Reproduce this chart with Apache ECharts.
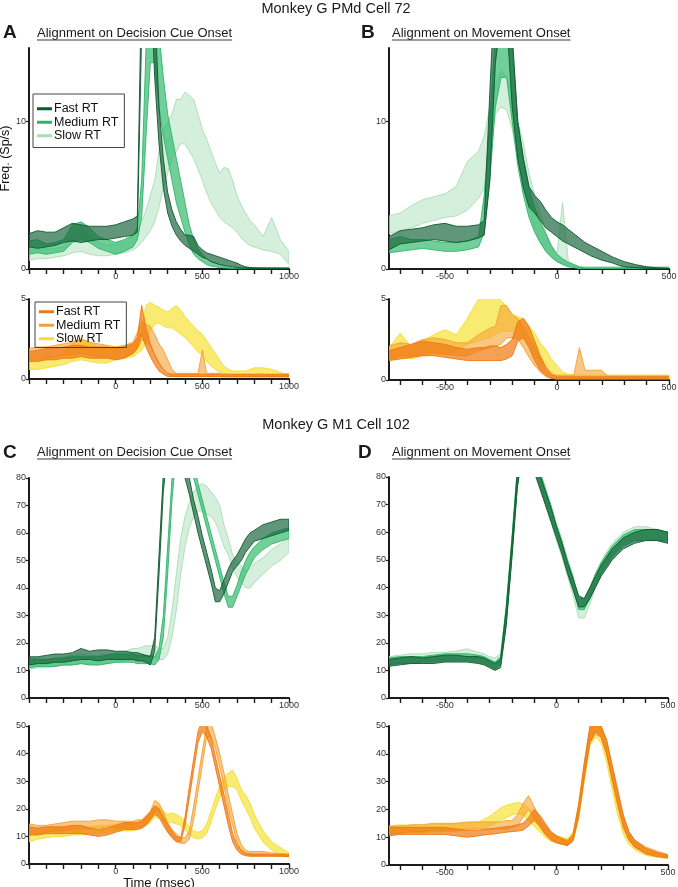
<!DOCTYPE html>
<html>
<head>
<meta charset="utf-8">
<script src="https://cdn.jsdelivr.net/npm/echarts@6/dist/echarts.min.js"></script>
<style>
  html, body { margin: 0; padding: 0; background: #fff; }
  #main { width: 678px; height: 887px; }
</style>
</head>
<body>
<div id="main"></div>
<script>
// time bins (msec), decision-cue alignment and movement alignment
const cueTimes = [-500,-450,-400,-350,-300,-250,-200,-150,-100,-50,0,50,100,125,150,175,200,225,250,275,300,325,350,375,400,425,450,475,500,525,550,575,600,625,650,675,700,725,750,775,800,850,900,950,1000];
const moveTimes = [-750,-700,-650,-600,-550,-500,-450,-400,-350,-325,-300,-275,-250,-225,-200,-175,-150,-125,-100,-75,-50,-25,0,25,50,75,100,125,150,175,200,225,250,275,300,325,350,400,450,500];

// axis ticks / labels
const cueTicks = [-500,-400,-300,-200,-100,0,100,200,300,400,500,600,700,800,900,1000];
const cueLabels = [0,500,1000];
const moveTicks = [-700,-600,-500,-400,-300,-200,-100,0,100,200,300,400,500];
const moveLabels = [-500,0,500];
const pmdTicks = [0,10];
const pmdSmallTicks = [0,5];
const m1Ticks = [0,10,20,30,40,50,60,70,80];
const m1SmallTicks = [0,10,20,30,40,50];

// ---- A : PMd, cue aligned (band = lower / upper edge) ----
const aTopFastLo = [1.5,1.4,1.5,1.6,1.8,1.9,1.8,1.9,2.0,2.0,2.1,2.2,2.3, 2.5,16,20,20,13,8.5,5.5,3.8,2.9,2.3,1.9,1.6,1.4,1.2,1.0,0.8,0.7,0.5,0.4,0.3,0.25,0.2,0.15,0.1,0.08,0.05,0.03,0.02, 0.02,0.02,0.02,0.02];
const aTopFastHi = [2.4,2.6,2.5,2.5,2.8,3.1,3.0,2.9,2.9,2.9,3.0,3.2,3.4, 3.6,20,25,25,18,11,7.5,5.2,4.0,3.2,2.7,2.3,2.3,2.2,1.6,1.3,1.1,1.0,0.9,0.8,0.7,0.6,0.5,0.4,0.25,0.15,0.1,0.08, 0.07,0.07,0.06,0.06];
const aTopMedLo = [1.0,1.1,1.0,1.1,1.2,1.8,2.0,1.8,1.4,1.2,1.0,1.2,1.5, 2.0,3.5,9,14,14,11,9,7.5,6,4.5,3.5,2.5,1.6,1.0,0.7,0.5,0.3,0.2,0.15,0.1,0.08,0.05,0.02,0.02,0.02,0.02,0.02,0.02, 0.02,0.02,0.02,0.02];
const aTopMedHi = [1.9,2.0,1.7,1.8,2.0,3.0,3.2,2.8,2.2,2.0,1.8,2.0,2.3, 2.8,6.0,15,20,20,16,13,10.5,9,7.5,6,4.5,3.0,2.0,1.4,1.0,0.7,0.5,0.4,0.3,0.2,0.15,0.08,0.08,0.08,0.08,0.08,0.08, 0.08,0.08,0.08,0.08];
const aTopSlowLo = [0.6,0.7,0.7,0.8,0.9,1.1,1.2,1.0,0.9,0.9,1.0,1.1,1.3, 1.5,1.8,2.2,2.6,3.2,4.2,5.5,6.5,7.5,8.0,8.5,8.5,8.0,7.5,6.8,6.0,5.2,4.5,4.0,3.5,3.2,3.0,2.8,2.5,2.1,1.8,1.6,1.5, 1.3,1.2,1.0,0.3];
const aTopSlowHi = [1.3,1.3,1.4,1.4,1.5,2.4,2.8,2.2,1.8,1.6,1.7,1.8,2.2, 2.6,3.2,4.0,5.0,6.0,8.0,9.5,10.0,10.5,11.5,11.5,12.0,11.8,11.5,10.5,9.5,8.8,8.0,7.2,6.5,6.9,6.8,6.0,5.0,4.3,3.8,3.3,3.0, 2.2,3.5,2.0,1.2];

const aBotFastLo = [1.1,1.1,1.2,1.2,1.3,1.3,1.4,1.3,1.3,1.3,1.2,1.3,1.6, 1.9,2.8,2.0,1.4,0.9,0.5,0.3,0.15,0.15,0.15,0.15,0.15,0.15,0.15,0.15,0.15,0.15,0.15,0.15,0.15,0.15,0.15,0.15,0.15,0.15,0.15,0.15,0.15, 0.15,0.15,0.15,0.15];
const aBotFastHi = [1.7,1.8,1.9,1.9,2.0,2.1,2.1,2.0,2.0,2.0,1.9,2.0,2.2, 2.6,4.6,3.2,2.2,1.5,1.0,0.6,0.35,0.3,0.3,0.3,0.3,0.3,0.3,0.3,0.3,0.3,0.3,0.3,0.3,0.3,0.3,0.3,0.3,0.3,0.3,0.3,0.3, 0.3,0.3,0.3,0.3];
const aBotMedLo = [1.2,1.3,1.3,1.4,1.5,1.5,1.6,1.5,1.4,1.4,1.3,1.4,1.6, 1.9,2.4,2.4,2.0,1.6,1.0,0.6,0.4,0.2,0.15,0.15,0.15,0.15,0.15,0.15,0.15,0.15,0.15,0.15,0.15,0.12,0.12,0.12,0.12,0.12,0.12,0.12,0.12, 0.12,0.12,0.12,0.12];
const aBotMedHi = [1.9,2.0,2.0,2.1,2.2,2.3,2.5,2.3,2.2,2.1,2.0,2.1,2.3, 2.9,3.6,3.4,3.3,2.8,2.2,1.8,1.2,0.6,0.35,0.35,0.35,0.35,0.35,0.35,1.8,0.35,0.35,0.35,0.35,0.25,0.25,0.25,0.25,0.25,0.25,0.25,0.25, 0.25,0.25,0.25,0.25];
const aBotSlowLo = [0.6,0.6,0.7,0.8,0.9,1.1,1.2,1.1,1.0,1.0,1.2,1.3,1.4, 1.6,1.8,2.2,3.0,3.4,3.5,3.3,3.2,3.2,3.0,2.8,2.6,2.3,2.0,1.7,1.5,1.1,0.8,0.6,0.4,0.35,0.3,0.3,0.3,0.3,0.3,0.3,0.3, 0.3,0.25,0.2,0.2];
const aBotSlowHi = [1.2,1.2,1.3,1.4,1.6,2.2,2.5,2.3,2.0,1.9,2.0,2.1,2.2, 2.4,3.0,4.6,4.8,4.6,4.5,4.3,4.2,4.4,4.6,4.3,3.9,3.6,3.3,3.0,2.8,2.4,2.0,1.6,1.2,0.8,0.6,0.5,0.5,0.5,0.5,0.6,0.7, 0.7,0.6,0.4,0.3];

// ---- B : PMd, movement aligned ----
const bTopFastLo = [1.3,1.7,1.8,1.9,2.0,1.9,1.8,1.9,2.1, 2.3,6,14,17,17,11,7.5,5.5,4.2,3.8,3.3,2.8,2.5,2.2,1.9,1.7,1.5,1.3,1.1,0.9,0.75,0.6,0.5,0.4,0.25,0.15,0.12,0.1, 0.05,0.02,0.02];
const bTopFastHi = [2.2,2.6,2.7,2.8,3.0,3.1,2.9,2.9,3.0, 3.3,12,20,22,22,16,10,7.5,5.6,5.0,4.6,4.0,3.5,3.2,3.0,2.7,2.4,2.1,1.8,1.6,1.4,1.2,1.0,0.8,0.65,0.5,0.4,0.3, 0.15,0.08,0.05];
const bTopMedLo = [1.1,1.2,1.3,1.4,1.3,1.2,1.2,1.3,1.5, 2.5,6,11,13,13,10,7,5,3.5,2.5,1.8,1.2,0.8,0.5,0.3,0.15,0.1,0.05,0.02,0.02,0.02,0.02,0.02,0.02,0.02,0.02,0.02,0.02, 0.02,0.02,0.02];
const bTopMedHi = [2.0,2.2,2.0,2.0,1.9,1.8,1.8,1.9,2.2, 5.0,10,16,20,20,15,10,7.5,5.5,4.2,3.2,2.4,1.6,1.0,0.7,0.45,0.3,0.15,0.08,0.08,0.08,0.08,0.08,0.08,0.08,0.08,0.08,0.08, 0.08,0.08,0.08];
const bTopSlowLo = [2.4,2.6,2.8,3.1,3.3,3.5,3.6,4.0,4.8, 5.5,8.0,10.5,11,10.8,9.5,7.5,5.5,4.0,2.8,1.8,1.2,0.8,0.5,0.4,0.2,0.1,0.05,0.05,0.05,0.05,0.05,0.05,0.05,0.05,0.05,0.05,0.05, 0.05,0.05,0.05];
const bTopSlowHi = [3.6,3.8,4.3,4.7,4.9,5.1,5.6,7.3,8.0, 9.0,11.0,12.5,13.5,13,12,10,8.5,6.5,5.0,3.8,2.5,1.5,1.0,4.5,0.6,0.3,0.15,0.15,0.15,0.15,0.15,0.15,0.15,0.15,0.15,0.15,0.15, 0.15,0.15,0.15];

const bBotFastLo = [1.2,1.3,1.4,1.5,1.5,1.4,1.3,1.2,1.2, 1.2,1.2,1.2,1.2,1.3,1.5,2.4,2.6,2.0,1.2,0.6,0.3,0.1,0.05,0.05,0.05,0.05,0.05,0.05,0.05,0.05,0.05,0.05,0.05,0.05,0.05,0.05,0.05, 0.05,0.05,0.05];
const bBotFastHi = [1.8,2.0,2.2,2.4,2.3,2.2,2.0,1.9,2.0, 2.0,2.1,2.1,2.0,2.2,2.5,3.6,3.8,3.3,2.4,1.5,0.8,0.4,0.2,0.2,0.2,0.2,0.2,0.2,0.2,0.2,0.2,0.2,0.2,0.2,0.2,0.2,0.2, 0.2,0.2,0.2];
const bBotMedLo = [1.3,1.5,1.5,1.6,1.7,1.6,1.5,1.5,1.8, 1.9,2.0,2.1,2.2,2.6,2.6,2.5,2.0,1.4,0.9,0.5,0.2,0.1,0.1,0.1,0.1,0.1,0.1,0.1,0.1,0.1,0.1,0.1,0.1,0.1,0.1,0.1,0.1, 0.1,0.1,0.1];
const bBotMedHi = [2.1,2.3,2.2,2.5,2.6,2.5,2.3,2.3,2.8, 3.0,3.2,3.3,4.6,4.6,4.0,3.8,3.2,2.6,2.0,1.3,0.6,0.3,0.3,0.3,0.3,0.3,2.0,0.6,0.6,0.6,0.6,0.25,0.25,0.25,0.25,0.25,0.25, 0.25,0.25,0.25];
const bBotSlowLo = [1.2,1.4,1.3,1.5,1.6,1.6,1.8,2.2,2.4, 2.5,2.6,2.8,3.0,3.0,3.0,2.8,2.6,2.1,1.6,1.1,0.8,0.5,0.3,0.2,0.15,0.1,0.1,0.1,0.1,0.1,0.1,0.1,0.1,0.1,0.1,0.1,0.1, 0.1,0.1,0.1];
const bBotSlowHi = [2.0,2.9,2.0,2.4,2.8,3.1,2.8,3.8,5.0, 5.3,5.6,5.4,4.9,4.5,4.1,3.9,3.8,3.3,2.9,2.3,1.9,1.3,0.9,0.5,0.35,0.3,0.3,0.3,0.3,0.3,0.3,0.3,0.3,0.3,0.3,0.3,0.3, 0.3,0.3,0.3];

// ---- C : M1, cue aligned ----
const cTopFastLo = [12,12.5,12.5,13,13,13.5,14,14,13.5,14,14,14,14, 13.5,13.5,13,12,17,45,75,90,90,90,88,80,74,67,60,54,48,42,35,35,38,42,46,48,50,53,55,57, 58,59,60,61];
const cTopFastHi = [15,15,15.5,16,16,16.5,18,17,17.5,17.5,17,17,16.5, 16.5,16,15.5,15,22,52,82,100,100,100,96,88,80,72,66,59,53,47,40,39,43,47,50,52,55,58,60,61, 63,64,65,65];
const cTopMedLo = [11,11.5,11.5,11.5,12,12,12.5,12,12,12.5,13,13,13, 12.5,12.5,12.5,12.5,12,14,22,45,72,90,90,90,86,80,74,68,62,56,50,44,38,33,33,37,41,45,48,51, 54,56,57,58];
const cTopMedHi = [14,14,14,14.5,14.5,15,15,15,15,15.5,16,16,16, 15.5,15.5,15.5,15.5,15,18,30,55,80,100,100,100,94,86,78,72,66,60,54,48,42,37,37,41,46,50,53,55, 58,60,61,62];
const cTopSlowLo = [10.5,11,11,11.5,12,12,12.5,12.5,12,12.5,13,13.5,14, 14.5,15,15,15,14.5,14,14,16,22,32,45,55,62,66,68,68,67,66,64,60,55,52,47,44,42,40,40,42, 45,48,50,53];
const cTopSlowHi = [14,14.5,14,14.5,15,15.5,16,15.5,15.5,16,16.5,17,18, 18,18.5,19,19,19,18,18,22,32,45,58,66,71,75,77,78,77,75,73,70,63,58,52,50,48,46,47,49, 51,54,56,58];

const cBotFastLo = [10.5,10.5,11,11,11,11,11,10.5,10,10.5,11.5,12.5,12.5, 12.5,13,14,16,18,17,14,11.5,9.5,8,8,14,24,34,44,48,46,42,35,28,21,14,8,5,3.5,3,2.8,2.8, 2.8,2.8,2.8,2.7];
const cBotFastHi = [13.5,13,13.5,13.5,13.5,14,14,13,12.5,13,14,15,15, 15,15.5,17,19,21,20,17,14.5,12,10,9.5,17,28,38,48,52,50,46,39,32,25,18,11,7,5,4,3.7,3.6, 3.6,3.5,3.4,3.3];
const cBotMedLo = [11,11,11.5,12,12,12.5,13,13,13,13.5,13,13,13, 13.5,13.5,14.5,16,19,19,16,12,10,8.5,7.5,7.5,9,16,26,36,46,46,42,35,28,20,14,8,4.5,3.5,3,3, 3,3,2.8,2.8];
const cBotMedHi = [14.5,14,14,14.5,15,15.5,15.5,15.5,16,16,15.5,15.5,15.5, 16,16,17.5,19,23,22,19,15,12.5,11,9.5,9.5,12,21,31,41,50,51,46,40,33,25,18,11,7,5,4.5,4.5, 4.5,4,3.8,3.6];
const cBotSlowLo = [8,9,9.5,10,10,10.5,10.5,11,11,11.5,12,12,12, 12.5,13,14,15,17,16.5,15.5,15,15,14.5,14,12.5,10.5,9.5,9,9.5,11,15,20,24,27,28,28,27,23,20,17,13, 8,5,3,2.5];
const cBotSlowHi = [12,12,12.5,13,13,13,13.5,13.5,14,14,14.5,14.5,14.5, 15,15.5,17,18.5,21,21,19,18,18.5,18,17,15.5,13.5,12,11.5,12,14.5,19,24,28,31,33,34,31,27,25,22,18, 12,8,6,4];

// ---- D : M1, movement aligned ----
const dTopFastLo = [11.5,12,12.5,12.5,12.5,13,13,13,12.5, 12,11,10,11,26,50,76,90,90,82,76,70,64,58,52,45,39,33,33,36,40,44,47,50,52,54,55,56, 57,57,56];
const dTopFastHi = [14,14.5,15,14.5,15,15.5,15.5,15,15, 14.5,13.5,12.5,14,32,56,82,100,100,88,81,75,69,62,56,49,43,37,36,40,44,48,51,54,56,58,59,60, 61,61,60];
const dTopMedLo = [12,12.5,12.5,13,13,13.5,13.5,13.5,13, 12.5,11.5,10.5,12,27,51,77,90,90,83,77,71,65,59,53,46,40,32,32,36,41,45,48,51,53,55,56,57, 57,57,57];
const dTopMedHi = [14.5,15,15,15,15.5,16,16,16,15.5, 15,14,13,15,33,57,83,100,100,89,82,76,70,63,57,50,44,36,36,40,45,49,52,55,57,59,60,61, 61,61,60];
const dTopSlowLo = [12.5,13,13,13.5,13.5,14,14,14.5,14, 13.5,12.5,11.5,13,27,51,77,90,90,84,78,71,64,57,51,44,37,29,29,34,40,45,48,51,54,56,57,57, 57,57,56];
const dTopSlowHi = [15,15.5,16,16,16.5,16.5,17,17.8,16.5, 16,15,14.5,16,33,57,83,100,100,90,83,76,69,62,55,48,41,33,33,38,44,49,53,56,58,60,61,62, 62,61,60];

const dBotFastLo = [10.5,11,11,11,11,11,10.5,10,10.5, 10.8,11,11.2,11.5,11.8,12,12.2,12.5,14,16,14,11,9,8,7.5,7,9,18,32,44,48,46,40,31,22,14,9,6.5, 4,3,2.6];
const dBotFastHi = [13.5,13.5,13.5,13.5,13.5,13.5,13,12.5,12.5, 12.8,13,13.2,13.5,13.8,14,14.5,15,17,20,18,15,12,10.5,9.5,8.5,11,22,37,50,52,50,45,36,27,18,12,9, 6,4.5,3.5];
const dBotMedLo = [11,11.5,12,12,12.5,12.5,12.5,13,13, 13,13,13,13,13,13.5,14,17,20,17,14,11,9,8,7.5,7,8.5,17,31,44,47,46,40,30,21,13,9,6.5, 4.5,3.5,2.8];
const dBotMedHi = [14,14,14.5,14.5,15,15,15,15.5,15.5, 15.5,15.5,15.5,15.5,16,16,18,22,25,21,17,14,12,10.5,9.5,9,11,22,36,49,51,50,45,35,26,17,12,9, 6.5,5,3.8];
const dBotSlowLo = [11,11.5,11.5,11.5,12,12,12,12.5,13, 13.5,14,15,16,17,18,18.5,18,16,14,12,10,8.5,8,7.5,7.5,9,17,30,43,46,44,37,27,18,11,7.5,5.5, 3.5,2.8,2.3];
const dBotSlowHi = [14,14.5,14,14,14.5,14.5,15,15,15.5, 16.5,17.5,19,20.5,21.5,22,22.5,22,20.5,18,15.5,13,11.5,10.5,10,9.5,12,21,35,48,50,49,42,32,23,15,10.5,8, 5.5,4,3.2];

const FONT = '"Liberation Sans", Arial, Helvetica, sans-serif';
const AXIS = '#1c1c1c';

const palettes = {
  green: {
    slow:   { line: '#a9ddb6', fill: 'rgba(170,224,184,0.5)' },
    medium: { line: '#2db469', fill: 'rgba(48,184,106,0.68)' },
    fast:   { line: '#0d5a2e', fill: 'rgba(24,100,60,0.68)' }
  },
  orange: {
    slow:   { line: '#f4dc30', fill: 'rgba(247,226,60,0.72)' },
    medium: { line: '#f5a030', fill: 'rgba(246,164,56,0.62)' },
    fast:   { line: '#ee7812', fill: 'rgba(240,124,20,0.72)' }
  }
};
const condNames = { fast: 'Fast RT', medium: 'Medium RT', slow: 'Slow RT' };

const panels = [
  { grid: { left: 29, top: 48, width: 260, height: 221 }, times: cueTimes, x: [-500, 1000, cueTicks, cueLabels], y: [15, pmdTicks], pal: 'green', yName: 'Freq. (Sp/s)',
    bands: { slow: [aTopSlowLo, aTopSlowHi], medium: [aTopMedLo, aTopMedHi], fast: [aTopFastLo, aTopFastHi] } },
  { grid: { left: 29, top: 299, width: 260, height: 80 }, times: cueTimes, x: [-500, 1000, cueTicks, cueLabels], y: [5, pmdSmallTicks], pal: 'orange',
    bands: { slow: [aBotSlowLo, aBotSlowHi], medium: [aBotMedLo, aBotMedHi], fast: [aBotFastLo, aBotFastHi] } },
  { grid: { left: 389, top: 48, width: 280, height: 221 }, times: moveTimes, x: [-750, 500, moveTicks, moveLabels], y: [15, pmdTicks], pal: 'green',
    bands: { slow: [bTopSlowLo, bTopSlowHi], medium: [bTopMedLo, bTopMedHi], fast: [bTopFastLo, bTopFastHi] } },
  { grid: { left: 389, top: 299, width: 280, height: 81 }, times: moveTimes, x: [-750, 500, moveTicks, moveLabels], y: [5, pmdSmallTicks], pal: 'orange',
    bands: { slow: [bBotSlowLo, bBotSlowHi], medium: [bBotMedLo, bBotMedHi], fast: [bBotFastLo, bBotFastHi] } },
  { grid: { left: 29, top: 478, width: 260, height: 220 }, times: cueTimes, x: [-500, 1000, cueTicks, cueLabels], y: [80, m1Ticks], pal: 'green',
    bands: { slow: [cTopSlowLo, cTopSlowHi], medium: [cTopMedLo, cTopMedHi], fast: [cTopFastLo, cTopFastHi] } },
  { grid: { left: 29, top: 726, width: 260, height: 138 }, times: cueTimes, x: [-500, 1000, cueTicks, cueLabels], y: [50, m1SmallTicks], pal: 'orange', xName: 'Time (msec)',
    bands: { slow: [cBotSlowLo, cBotSlowHi], medium: [cBotMedLo, cBotMedHi], fast: [cBotFastLo, cBotFastHi] } },
  { grid: { left: 389, top: 477, width: 279, height: 221 }, times: moveTimes, x: [-750, 500, moveTicks, moveLabels], y: [80, m1Ticks], pal: 'green',
    bands: { slow: [dTopSlowLo, dTopSlowHi], medium: [dTopMedLo, dTopMedHi], fast: [dTopFastLo, dTopFastHi] } },
  { grid: { left: 389, top: 726, width: 279, height: 139 }, times: moveTimes, x: [-750, 500, moveTicks, moveLabels], y: [50, m1SmallTicks], pal: 'orange',
    bands: { slow: [dBotSlowLo, dBotSlowHi], medium: [dBotMedLo, dBotMedHi], fast: [dBotFastLo, dBotFastHi] } }
];

const tickLabel = { fontSize: 9, color: '#333', fontFamily: FONT, formatter: function (v) { return String(v); } };

function makeXAxis(p, i) {
  const [min, max, ticks, labels] = p.x;
  return {
    type: 'value', gridIndex: i, min: min, max: max,
    axisLine: { show: true, onZero: false, lineStyle: { color: AXIS, width: 2 } },
    axisTick: { show: true, length: 5, customValues: ticks, lineStyle: { color: AXIS, width: 1.4 } },
    axisLabel: Object.assign({ customValues: labels, margin: 3 }, tickLabel),
    splitLine: { show: false },
    name: p.xName || '', nameLocation: 'middle', nameGap: 9,
    nameTextStyle: { fontSize: 13, color: '#111', fontFamily: FONT }
  };
}

function makeYAxis(p, i) {
  const [max, ticks] = p.y;
  return {
    type: 'value', gridIndex: i, min: 0, max: max,
    axisLine: { show: true, onZero: false, lineStyle: { color: AXIS, width: 2 } },
    axisTick: { show: true, length: 3, customValues: ticks, lineStyle: { color: AXIS, width: 1.2 } },
    axisLabel: Object.assign({ customValues: ticks, margin: 3 }, tickLabel),
    splitLine: { show: false },
    name: p.yName || '', nameLocation: 'middle', nameGap: 14, nameRotate: 90,
    nameTextStyle: { fontSize: 12.5, color: '#111', fontFamily: FONT }
  };
}

// one filled polygon per band: upper edge forward, lower edge back, clipped to the grid
function renderBand(params, api) {
  if (params.dataIndexInside !== 0) return null;
  const n = params.dataInsideLength;
  const upper = [], lower = [];
  for (let j = 0; j < n; j++) {
    const t = api.value(0, j);
    upper.push(api.coord([t, api.value(2, j)]));
    lower.push(api.coord([t, api.value(1, j)]));
  }
  const cs = params.coordSys;
  const st = api.style();
  return {
    type: 'polygon',
    shape: { points: upper.concat(lower.reverse()) },
    style: { fill: st.fill, stroke: st.stroke, lineWidth: 0.9, lineJoin: 'round' },
    clipPath: { type: 'rect', shape: { x: cs.x, y: cs.y, width: cs.width, height: cs.height } },
    silent: true
  };
}

function bandSeries(p, i) {
  return ['slow', 'medium', 'fast'].map(function (cond) {
    const lo = p.bands[cond][0], hi = p.bands[cond][1];
    const c = palettes[p.pal][cond];
    return {
      type: 'custom', name: p.pal + ':' + condNames[cond],
      xAxisIndex: i, yAxisIndex: i,
      data: p.times.map(function (t, j) { return [t, lo[j], hi[j]]; }),
      encode: { x: 0, y: [1, 2] },
      renderItem: renderBand,
      itemStyle: { color: c.fill, borderColor: c.line, borderWidth: 0.9 },
      silent: true
    };
  });
}

function legendFor(pal, left, top, padding) {
  return {
    orient: 'vertical', left: left, top: top,
    data: ['fast', 'medium', 'slow'].map(function (k) {
      return { name: pal + ':' + condNames[k], itemStyle: { color: palettes[pal][k].line, borderWidth: 0 } };
    }),
    formatter: function (n) { return n.split(':')[1]; },
    selectedMode: false,
    icon: 'rect',
    borderColor: '#444', borderWidth: 1, padding: padding,
    itemGap: 0, itemWidth: 15, itemHeight: 3,
    textStyle: { fontSize: 12.5, color: '#111', fontFamily: FONT, padding: [0, 0, 0, -3], lineHeight: 13.5 }
  };
}

// underline widths come from the real text metrics
const measureCtx = document.createElement('canvas').getContext('2d');
function textWidth(text, font) {
  measureCtx.font = font;
  return measureCtx.measureText(text).width;
}

function label(text, x, y, size, weight, align) {
  return {
    type: 'text', silent: true,
    style: {
      text: text, x: x, y: y, fill: '#1a1a1a',
      font: weight + ' ' + size + 'px ' + FONT,
      textAlign: align, align: align, textVerticalAlign: 'middle', verticalAlign: 'middle'
    }
  };
}

function underlined(text, x, y) {
  const font = 'normal 13px ' + FONT;
  const w = textWidth(text, font);
  return [
    label(text, x, y, 13, 'normal', 'left'),
    { type: 'line', silent: true, shape: { x1: x, y1: y + 7, x2: x + w, y2: y + 7 }, style: { stroke: '#3a3a3a', lineWidth: 1 } }
  ];
}

const graphics = [].concat(
  [label('Monkey G PMd Cell 72', 336, 9, 14.5, 'normal', 'center'),
   label('A', 3, 33, 19, 'bold', 'left'),
   label('B', 361, 33, 19, 'bold', 'left')],
  underlined('Alignment on Decision Cue Onset', 37, 33),
  underlined('Alignment on Movement Onset', 392, 33),
  [label('Monkey G M1 Cell 102', 336, 425, 14.5, 'normal', 'center'),
   label('C', 3, 453, 19, 'bold', 'left'),
   label('D', 358, 453, 19, 'bold', 'left')],
  underlined('Alignment on Decision Cue Onset', 37, 452),
  underlined('Alignment on Movement Onset', 392, 452)
);

let series = [];
panels.forEach(function (p, i) { series = series.concat(bandSeries(p, i)); });

const option = {
  backgroundColor: '#fff',
  animation: false,
  textStyle: { fontFamily: FONT },
  grid: panels.map(function (p) { return Object.assign({ containLabel: false, outerBoundsMode: 'none' }, p.grid); }),
  xAxis: panels.map(makeXAxis),
  yAxis: panels.map(makeYAxis),
  legend: [
    legendFor('green', 33, 94, [8, 6, 5, 4]),
    legendFor('orange', 35, 302, [3, 6, 2, 4])
  ],
  graphic: graphics,
  series: series
};

const chart = echarts.init(document.getElementById('main'));
chart.setOption(option);
</script>
</body>
</html>
